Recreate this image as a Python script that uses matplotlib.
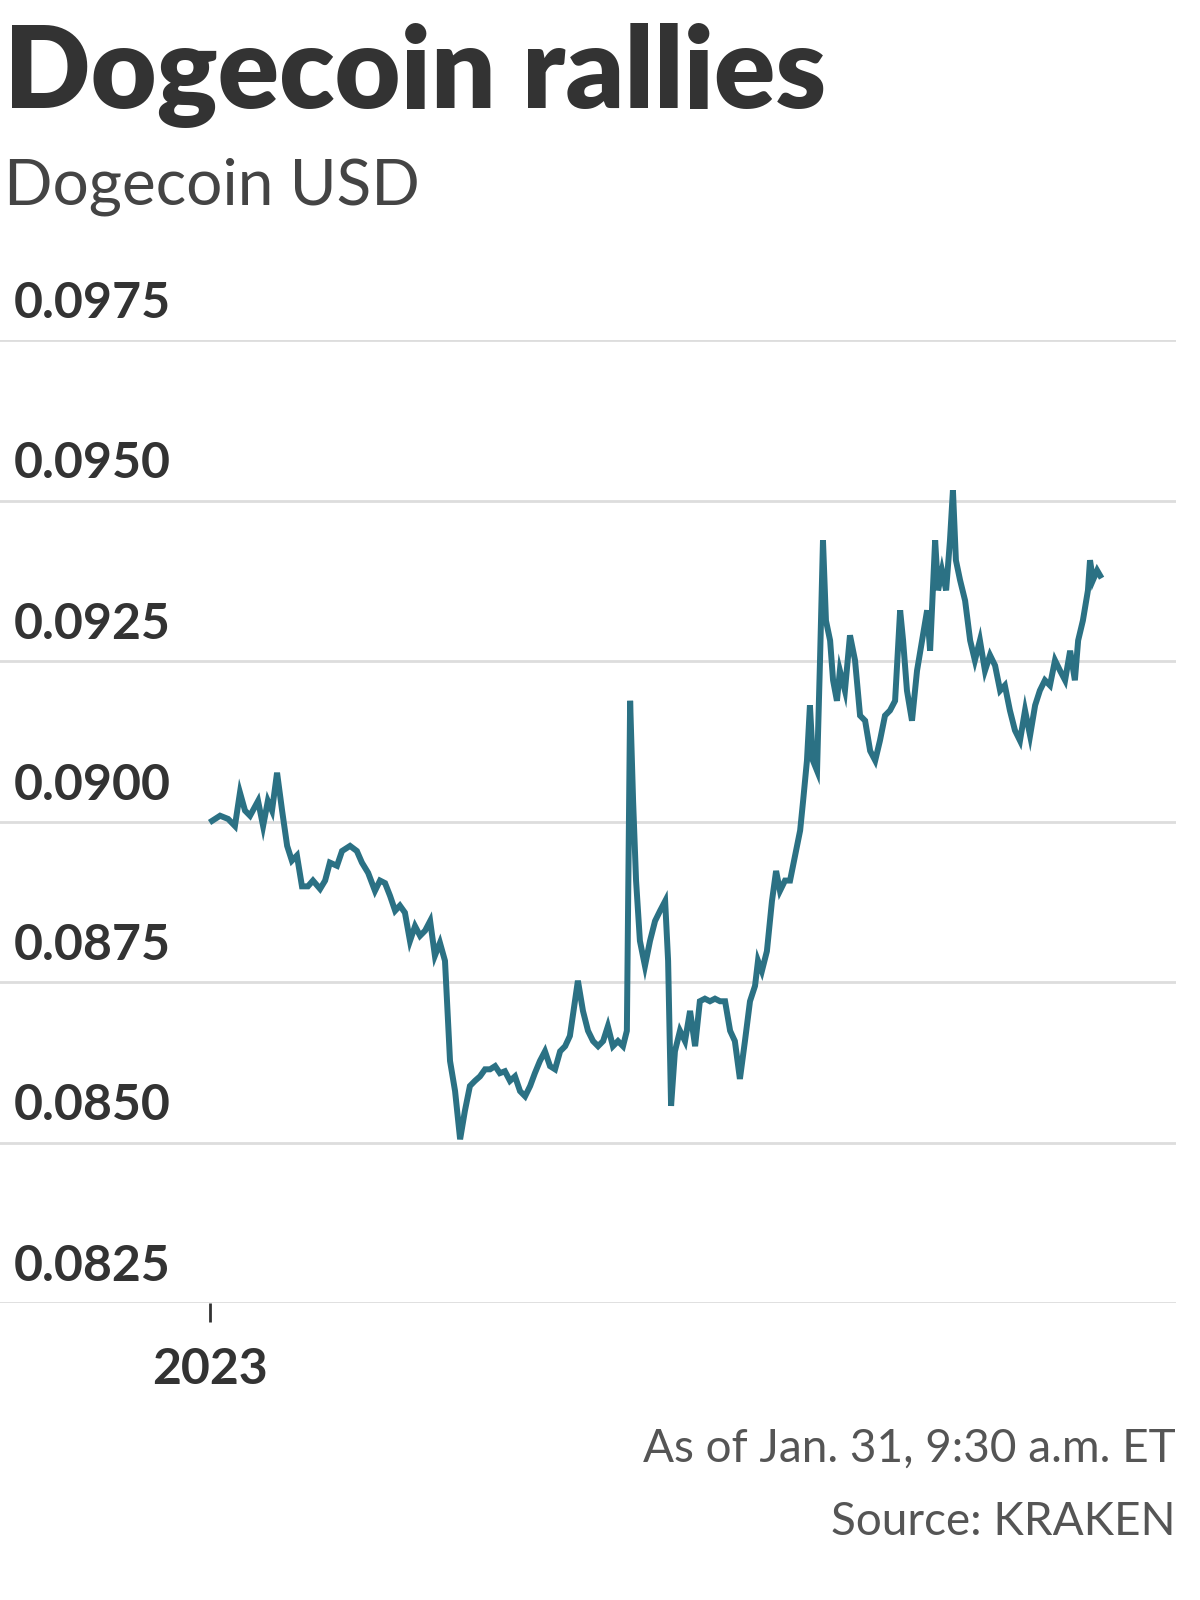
import matplotlib
matplotlib.use("Agg")
import matplotlib.pyplot as plt

days = [0.07,0.34,0.61,0.84,1.01,1.18,1.35,1.62,1.79,1.95,2.09,2.26,2.43,2.60,2.76,2.93,3.10,3.30,3.47,3.71,3.88,4.04,4.28,4.45,4.72,4.95,5.12,5.33,5.56,5.73,5.90,6.07,6.24,6.40,6.57,6.74,6.91,7.08,7.25,7.42,7.58,7.75,7.92,8.09,8.26,8.43,8.59,8.76,8.93,9.10,9.27,9.44,9.61,9.77,9.94,10.11,10.28,10.45,10.62,10.79,10.95,11.12,11.29,11.46,11.63,11.80,11.97,12.13,12.30,12.40,12.57,12.74,12.91,13.08,13.25,13.41,13.58,13.75,13.92,14.05,14.16,14.26,14.36,14.49,14.66,14.83,15.00,15.17,15.34,15.44,15.54,15.67,15.84,16.01,16.18,16.35,16.51,16.68,16.85,17.02,17.19,17.36,17.53,17.69,17.86,18.03,18.20,18.37,18.47,18.60,18.77,18.94,19.08,19.21,19.38,19.55,19.72,19.89,19.99,20.12,20.22,20.32,20.46,20.56,20.66,20.76,20.90,21.00,21.13,21.23,21.40,21.57,21.74,21.91,22.08,22.25,22.42,22.58,22.75,22.92,23.09,23.26,23.36,23.49,23.66,23.83,24.00,24.17,24.27,24.44,24.54,24.67,24.81,24.94,25.04,25.14,25.28,25.45,25.62,25.78,25.95,26.12,26.29,26.46,26.63,26.79,26.96,27.13,27.30,27.47,27.64,27.81,27.97,28.14,28.31,28.48,28.65,28.82,28.99,29.15,29.26,29.42,29.59,29.66,29.76,29.90,30.00]

price_milli = [90.01,90.09,90.04,89.93,90.45,90.17,90.09,90.32,89.93,90.32,90.17,90.76,90.17,89.62,89.39,89.47,88.99,88.99,89.08,88.95,89.08,89.36,89.31,89.54,89.62,89.54,89.36,89.20,88.92,89.08,89.04,88.84,88.61,88.69,88.58,88.14,88.37,88.22,88.30,88.45,87.91,88.11,87.83,86.27,85.80,85.05,85.49,85.88,85.96,86.03,86.14,86.14,86.19,86.08,86.11,85.96,86.03,85.80,85.72,85.88,86.08,86.27,86.42,86.19,86.14,86.42,86.50,86.66,87.20,87.52,87.05,86.74,86.58,86.50,86.58,86.81,86.50,86.58,86.50,86.74,91.88,90.32,89.08,88.14,87.75,88.14,88.45,88.61,88.76,87.83,85.57,86.42,86.74,86.58,87.05,86.50,87.20,87.24,87.20,87.24,87.20,87.20,86.74,86.58,85.99,86.58,87.20,87.44,87.83,87.67,87.98,88.76,89.23,88.92,89.08,89.08,89.47,89.86,90.32,90.95,91.81,90.95,90.79,92.51,94.38,93.13,92.82,92.20,91.88,92.35,92.04,92.90,92.51,91.65,91.57,91.10,90.95,91.26,91.65,91.73,91.88,93.29,92.82,92.04,91.57,92.35,92.82,93.29,92.66,94.38,93.60,93.91,93.60,94.38,95.16,94.07,93.76,93.44,92.82,92.51,92.82,92.35,92.59,92.43,92.04,92.12,91.73,91.42,91.26,91.73,91.34,91.81,92.04,92.20,92.12,92.51,92.35,92.20,92.66,92.20,92.82,93.13,93.60,94.07,93.76,93.91,93.83]

y_ticks = [0.0825, 0.0850, 0.0875, 0.0900, 0.0925, 0.0950, 0.0975]
y_tick_labels = ["0.0825", "0.0850", "0.0875", "0.0900", "0.0925", "0.0950", "0.0975"]
x_tick_days = [0]
x_tick_labels = ["2023"]

n = min(len(days), len(price_milli))
prices = [p / 1000 for p in price_milli[:n]]

plt.rcParams['font.family'] = ['Lato', 'DejaVu Sans']
fig = plt.figure(figsize=(12, 16), dpi=100)
ax = fig.add_axes([0.0, 1 - 1303/1600, 0.98, (1303-340)/1600])
ax.plot(days[:n], prices, color="#2b7184", lw=4.3, solid_joinstyle="miter")
ax.set_ylim(0.0825, 0.0975)
ax.set_xlim(-210/29.67, (1176-210)/29.67)
for s in ax.spines.values():
    s.set_visible(False)
ax.set_yticks(y_ticks)
ax.set_yticklabels([])
ax.tick_params(axis='y', length=0)
ax.grid(axis='y', color="#dddddd", lw=2)
ax.set_axisbelow(True)
for v, lab in zip(y_ticks, y_tick_labels):
    ax.annotate(lab, xy=(0, v), xycoords=('axes fraction', 'data'),
                xytext=(14, 14), textcoords='offset pixels',
                fontsize=36, color="#333333", fontweight='bold', va='bottom', ha='left')
ax.set_xticks(x_tick_days)
ax.set_xticklabels(x_tick_labels, fontsize=36, color="#333333", fontweight='bold')
ax.tick_params(axis='x', length=14, width=2, color="#333333", pad=18)

fig.text(0.003, 1 - 108/1600, "Dogecoin rallies", fontsize=82, fontweight='heavy', color="#333333", va='baseline')
fig.text(0.003, 1 - 205/1600, "Dogecoin USD", fontsize=46, color="#444444", va='baseline')
fig.text(0.98, 1 - 1462/1600, "As of Jan. 31, 9:30 a.m. ET", fontsize=33, color="#555555", ha='right', va='baseline')
fig.text(0.98, 1 - 1535/1600, "Source: KRAKEN", fontsize=33, color="#555555", ha='right', va='baseline')

fig.savefig("out.png", dpi=100, facecolor="white")
